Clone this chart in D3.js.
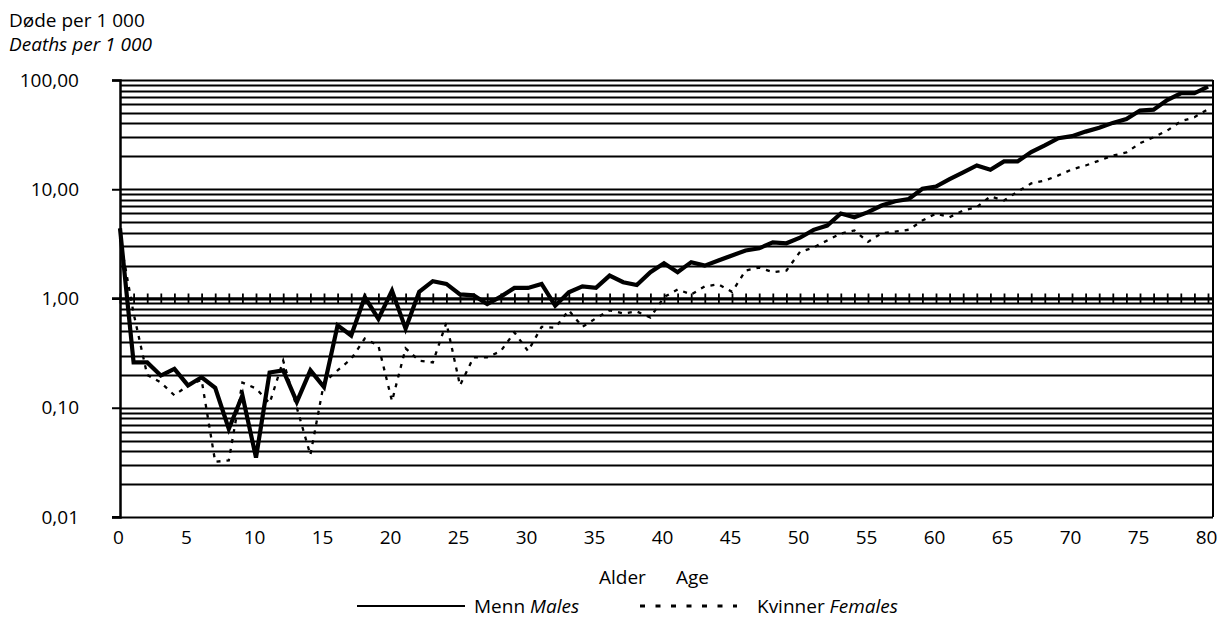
<!DOCTYPE html>
<html>
<head>
<meta charset="utf-8">
<script src="https://cdn.jsdelivr.net/npm/d3@7"></script>
<style>
  html, body { margin: 0; padding: 0; background: #fff; }
  svg { display: block; font-family: "Open Sans", "Noto Sans", sans-serif; }
</style>
</head>
<body>
<svg id="chart" width="1225" height="625"></svg>
<script>
// ---- Data ----
const ages = d3.range(0, 81);
const males = [4.4, 0.26, 0.26, 0.197, 0.227, 0.16, 0.19, 0.152, 0.064, 0.13,
  0.035, 0.21, 0.22, 0.113, 0.22, 0.155, 0.567, 0.458, 1.03, 0.65,
  1.18, 0.53, 1.15, 1.44, 1.36, 1.09, 1.07, 0.89, 1.04, 1.25,
  1.25, 1.36, 0.86, 1.14, 1.29, 1.25, 1.62, 1.41, 1.33, 1.74,
  2.1, 1.74, 2.15, 2.0, 2.23, 2.48, 2.75, 2.88, 3.27, 3.2,
  3.6, 4.25, 4.65, 6.0, 5.55, 6.17, 7.1, 7.77, 8.15, 10.1,
  10.6, 12.4, 14.3, 16.5, 15.1, 18.0, 18.0, 21.9, 25.2, 29.3,
  30.6, 33.7, 36.5, 40.5, 44.0, 52.5, 53.5, 65.6, 75.6, 75.6,
  87.1];
const females = [3.6, 0.73, 0.2, 0.17, 0.13, 0.16, 0.18, 0.032, 0.033, 0.17,
  0.15, 0.11, 0.27, 0.1, 0.037, 0.17, 0.22, 0.28, 0.43, 0.37,
  0.115, 0.35, 0.27, 0.26, 0.6, 0.16, 0.29, 0.29, 0.33, 0.49,
  0.33, 0.55, 0.54, 0.78, 0.55, 0.66, 0.78, 0.73, 0.76, 0.67,
  1.03, 1.21, 1.09, 1.29, 1.35, 1.15, 1.8, 1.92, 1.74, 1.8,
  2.67, 2.93, 3.4, 3.93, 4.2, 3.3, 3.96, 4.1, 4.26, 5.17,
  6.0, 5.55, 6.4, 6.85, 8.6, 7.9, 9.5, 11.3, 12.0, 13.4,
  15.2, 16.5, 18.3, 20.3, 21.7, 26.4, 29.9, 34.4, 41.9, 45.6,
  54.0];
const yTickValues = [100, 10, 1, 0.1, 0.01];
const yTickLabels = ["100,00", "10,00", "1,00", "0,10", "0,01"];
const xTickValues = d3.range(0, 81, 5);
const seriesNames = [["Menn ", "Males"], ["Kvinner ", "Females"]];

// ---- Layout ----
const FS = 19;
const svg = d3.select("#chart");
const plotLeft = 120, plotRight = 1213, lastX = 1208;
const x = d3.scaleLinear().domain([0, 80]).range([plotLeft, lastX]);
const y = d3.scaleLog().domain([0.01, 100]).range([517, 80]);

// gridlines (every 1..9 x 10^k)
const grid = [];
for (let k = -2; k <= 1; k++) for (let m = 1; m <= 9; m++) grid.push(+(m * Math.pow(10, k)).toPrecision(3));
grid.push(100);
svg.append("g").selectAll("line").data(grid).join("line")
  .attr("x1", plotLeft).attr("x2", plotRight)
  .attr("y1", d => Math.round(y(d)) + 0.5).attr("y2", d => Math.round(y(d)) + 0.5)
  .attr("stroke", "#000").attr("stroke-width", 1.8);

// right border
svg.append("line").attr("x1", plotRight).attr("x2", plotRight)
  .attr("y1", y(100)).attr("y2", y(0.01)).attr("stroke", "#000").attr("stroke-width", 2);

// y axis
const yAxis = d3.axisLeft(y).tickValues(yTickValues)
  .tickFormat((d, i) => yTickLabels[i]).tickSize(8);
const gy = svg.append("g").attr("transform", `translate(${plotLeft},0)`).call(yAxis);
gy.select(".domain").attr("stroke-width", 2.5);
gy.selectAll(".tick line").attr("stroke-width", 2);
gy.selectAll(".tick text").attr("x", -41).attr("font-size", FS).attr("fill", "#000")
  .attr("font-family", "'Open Sans', sans-serif");

// x axis crossing at 1.00 with cross ticks
const xAxisLine = d3.axisBottom(x).tickValues(d3.range(0, 81)).tickFormat("").tickSizeInner(5).tickSizeOuter(0);
const gx = svg.append("g").attr("transform", `translate(0,${y(1)})`).call(xAxisLine);
gx.select(".domain").attr("stroke-width", 2.4).attr("d", `M${plotLeft - 8},0H${plotRight}`);
gx.selectAll(".tick line").attr("y1", -5).attr("y2", 5).attr("stroke-width", 1.8);

// bottom line extends left like a tick
svg.append("line").attr("x1", plotLeft - 8).attr("x2", plotLeft)
  .attr("y1", y(0.01)).attr("y2", y(0.01)).attr("stroke", "#000").attr("stroke-width", 2);

// x tick labels at bottom
const xLabels = d3.axisBottom(x).tickValues(xTickValues).tickFormat(d3.format("d")).tickSize(0).tickPadding(14);
const gxl = svg.append("g").attr("transform", `translate(0,${y(0.01)})`).call(xLabels);
gxl.select(".domain").remove();
gxl.selectAll(".tick text").attr("font-size", FS).attr("fill", "#000").attr("dx", -2)
  .attr("font-family", "'Open Sans', sans-serif");

// lines
const line = d3.line().x((d, i) => x(ages[i])).y(d => y(d));
svg.append("path").datum(females).attr("d", line)
  .attr("fill", "none").attr("stroke", "#000").attr("stroke-width", 2.3)
  .attr("stroke-dasharray", "4,6");
svg.append("path").datum(males).attr("d", line)
  .attr("fill", "none").attr("stroke", "#000").attr("stroke-width", 4.2)
  .attr("stroke-linejoin", "miter");

// titles
svg.append("text").attr("x", 9).attr("y", 27).attr("font-size", FS).text("Døde per 1 000");
svg.append("text").attr("x", 9).attr("y", 51).attr("font-size", FS)
  .attr("font-style", "italic").text("Deaths per 1 000");

// x axis title
svg.append("text").attr("x", 599).attr("y", 584).attr("font-size", FS).text("Alder");
svg.append("text").attr("x", 676).attr("y", 584).attr("font-size", FS).text("Age");

// legend
const lg = svg.append("g");
lg.append("line").attr("x1", 357).attr("x2", 465).attr("y1", 606).attr("y2", 606)
  .attr("stroke", "#000").attr("stroke-width", 2.2);
const l1 = lg.append("text").attr("x", 474).attr("y", 613).attr("font-size", FS);
l1.append("tspan").text(seriesNames[0][0]);
l1.append("tspan").attr("font-style", "italic").text(seriesNames[0][1]);
lg.append("line").attr("x1", 640).attr("x2", 737).attr("y1", 606).attr("y2", 606)
  .attr("stroke", "#000").attr("stroke-width", 3.2).attr("stroke-dasharray", "5,10.5");
const l2 = lg.append("text").attr("x", 757).attr("y", 613).attr("font-size", FS);
l2.append("tspan").text(seriesNames[1][0]);
l2.append("tspan").attr("font-style", "italic").text(seriesNames[1][1]);
</script>
</body>
</html>
